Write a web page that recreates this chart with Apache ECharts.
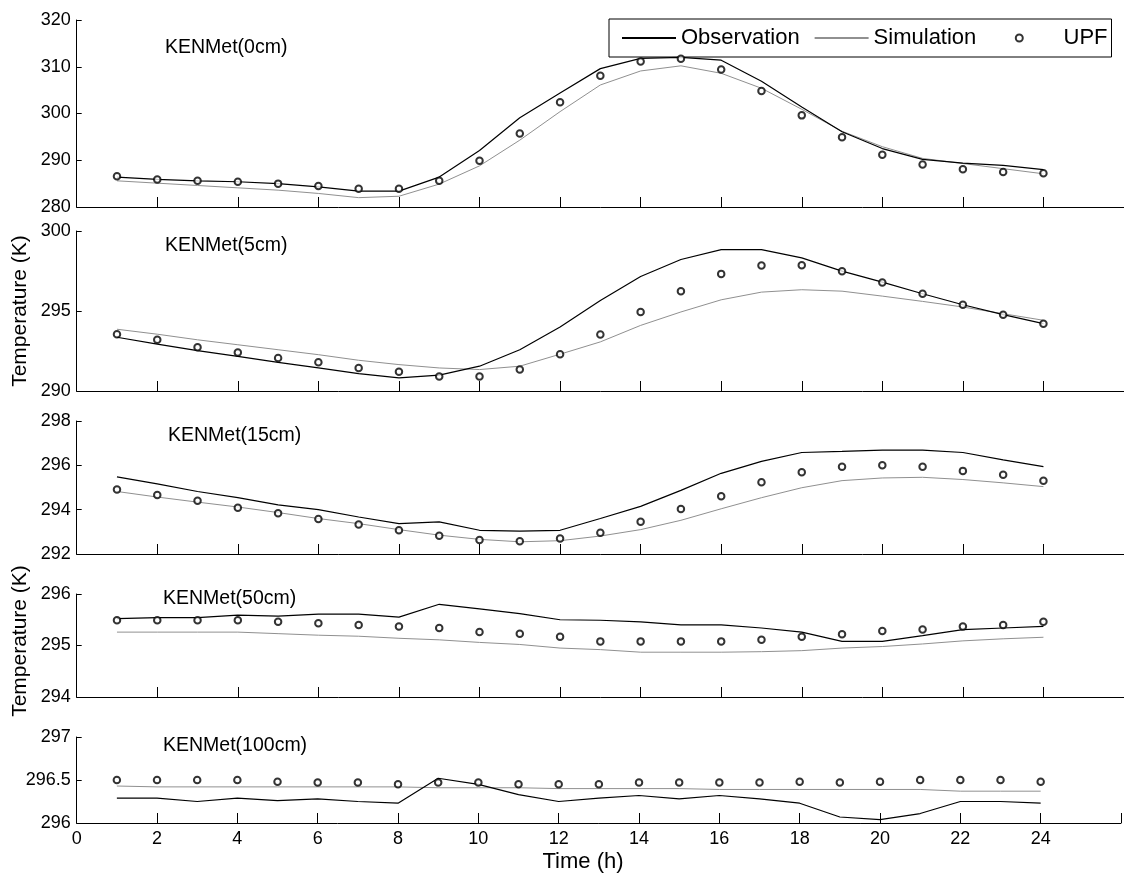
<!DOCTYPE html>
<html>
<head>
<meta charset="utf-8">
<script src="https://cdn.jsdelivr.net/npm/echarts@6/dist/echarts.min.js"></script>
<style>html,body{margin:0;padding:0;background:#fff;}#c{width:1124px;height:875px;}</style>
</head>
<body>
<div id="c"></div>
<script>
const hours = [1,2,3,4,5,6,7,8,9,10,11,12,13,14,15,16,17,18,19,20,21,22,23,24];
const xTicks = [0,2,4,6,8,10,12,14,16,18,20,22,24];
const panelTitles = ['KENMet(0cm)','KENMet(5cm)','KENMet(15cm)','KENMet(50cm)','KENMet(100cm)'];
const yMin = [280, 290, 292, 294, 296];
const yMax = [320, 300, 298, 296, 297];
const yStep = [10, 5, 2, 1, 0.5];

// 0 cm
const obs0 = [286.4,285.9,285.6,285.4,285.0,284.3,283.4,283.4,286.4,292.1,299.1,304.4,309.6,311.8,312.0,311.4,306.9,301.4,296.1,292.5,290.2,289.4,288.9,288.0];
const sim0 = [285.6,285.1,284.6,284.1,283.6,282.9,282.0,282.3,284.9,288.8,294.3,300.4,306.1,309.1,310.2,308.6,305.4,300.9,296.2,292.9,290.4,289.3,288.2,287.1];
const upf0 = [286.6,285.9,285.6,285.4,285.0,284.5,283.9,283.9,285.6,289.9,295.7,302.4,308.1,311.1,311.7,309.4,304.8,299.6,294.9,291.2,289.1,288.1,287.5,287.2];
// 5 cm
const obs5 = [293.36,292.93,292.52,292.16,291.79,291.44,291.09,290.82,290.99,291.55,292.58,294.0,295.66,297.16,298.22,298.84,298.84,298.32,297.49,296.8,296.08,295.39,294.77,294.21];
const sim5 = [293.86,293.55,293.2,292.89,292.58,292.27,291.92,291.65,291.44,291.34,291.55,292.3,293.07,294.1,294.94,295.7,296.18,296.33,296.24,295.93,295.6,295.25,294.83,294.42];
const upf5 = [293.55,293.2,292.74,292.41,292.06,291.79,291.44,291.2,290.91,290.91,291.34,292.3,293.53,294.94,296.24,297.32,297.84,297.86,297.49,296.78,296.08,295.39,294.77,294.21];
// 15 cm
const obs15 = [295.48,295.16,294.82,294.54,294.22,294.0,293.67,293.37,293.45,293.07,293.03,293.07,293.6,294.15,294.87,295.64,296.18,296.58,296.63,296.69,296.69,296.58,296.25,295.94];
const sim15 = [294.82,294.57,294.34,294.12,293.87,293.6,293.37,293.1,292.85,292.66,292.55,292.6,292.81,293.1,293.52,294.04,294.54,294.99,295.31,295.43,295.46,295.36,295.21,295.04];
const upf15 = [294.91,294.66,294.4,294.09,293.84,293.58,293.33,293.07,292.82,292.63,292.57,292.7,292.96,293.45,294.03,294.6,295.24,295.69,295.94,296.0,295.94,295.75,295.57,295.3];
// 50 cm
const obs50 = [295.52,295.54,295.54,295.59,295.57,295.61,295.61,295.55,295.8,295.71,295.62,295.5,295.49,295.46,295.4,295.4,295.34,295.26,295.08,295.08,295.19,295.31,295.34,295.37];
const sim50 = [295.26,295.26,295.26,295.26,295.23,295.2,295.18,295.14,295.11,295.06,295.02,294.95,294.92,294.87,294.87,294.87,294.88,294.9,294.95,294.98,295.03,295.09,295.13,295.16];
const upf50 = [295.49,295.49,295.49,295.49,295.46,295.43,295.4,295.37,295.34,295.26,295.23,295.17,295.08,295.08,295.08,295.08,295.11,295.17,295.22,295.28,295.31,295.37,295.4,295.46];
// 100 cm
const obs100 = [296.29,296.29,296.25,296.29,296.26,296.28,296.25,296.23,296.52,296.45,296.33,296.25,296.29,296.32,296.28,296.32,296.28,296.23,296.07,296.04,296.11,296.25,296.25,296.23];
const sim100 = [296.43,296.42,296.42,296.42,296.42,296.42,296.42,296.42,296.41,296.41,296.41,296.4,296.4,296.4,296.4,296.39,296.39,296.39,296.39,296.39,296.39,296.37,296.37,296.37];
const upf100 = [296.5,296.5,296.5,296.5,296.48,296.47,296.47,296.45,296.47,296.47,296.45,296.45,296.45,296.47,296.47,296.47,296.47,296.48,296.47,296.48,296.5,296.5,296.5,296.48];

const obsAll = [obs0, obs5, obs15, obs50, obs100];
const simAll = [sim0, sim5, sim15, sim50, sim100];
const upfAll = [upf0, upf5, upf15, upf50, upf100];

// layout (pixels)
const gridTop = [20, 231, 421, 594, 737];
const gridBottomY = [207, 391, 554, 697, 823];
const titleY = [33, 231, 421, 584, 731];
const titleX = [160, 160, 163, 158, 158];

const FONT = '"Liberation Sans", Arial, sans-serif';
const grids = [], xAxes = [], yAxes = [], series = [], titles = [];
for (let i = 0; i < 5; i++) {
  grids.push({left: 76.7, width: 1094, top: gridTop[i], height: gridBottomY[i] - gridTop[i], containLabel: false});
  const last = i === 4;
  xAxes.push({
    type: 'value', gridIndex: i, min: 0, max: 26, interval: 2,
    axisLine: {show: true, onZero: false, lineStyle: {color: '#000', width: 1}},
    axisTick: {show: true, inside: true, length: 10, lineStyle: {color: '#000', width: 1}},
    splitLine: {show: false},
    axisLabel: {show: last, color: '#000', fontFamily: FONT, fontSize: 18, margin: 7,
      formatter: v => (v <= 24 ? String(v) : '')}
  });
  yAxes.push({
    type: 'value', gridIndex: i, min: yMin[i], max: yMax[i], interval: yStep[i],
    axisLine: {show: true, onZero: false, lineStyle: {color: '#000', width: 1}},
    axisTick: {show: true, inside: true, length: 5, lineStyle: {color: '#000', width: 1}},
    splitLine: {show: false},
    axisLabel: {color: '#000', fontFamily: FONT, fontSize: 18, margin: 6}
  });
  titles.push({text: panelTitles[i], left: titleX[i], top: titleY[i],
    textStyle: {color: '#000', fontFamily: FONT, fontSize: 19.5, fontWeight: 'normal'}});
  const mk = arr => hours.map((h, j) => [h, arr[j]]);
  series.push({name: 'Observation', type: 'line', xAxisIndex: i, yAxisIndex: i, data: mk(obsAll[i]),
    symbol: 'none', lineStyle: {color: '#000', width: 1.2}, itemStyle: {color: '#000'}, z: 3, silent: true});
  series.push({name: 'Simulation', type: 'line', xAxisIndex: i, yAxisIndex: i, data: mk(simAll[i]),
    symbol: 'none', lineStyle: {color: '#909090', width: 1}, itemStyle: {color: '#909090'}, z: 2, silent: true});
  series.push({name: 'UPF', type: 'scatter', xAxisIndex: i, yAxisIndex: i, data: mk(upfAll[i]),
    symbol: 'emptyCircle', symbolSize: 6.5, itemStyle: {color: '#000', borderColor: '#000', borderWidth: 1}, z: 4, silent: true});
}

const chart = echarts.init(document.getElementById('c'), null, {renderer: 'canvas'});
chart.setOption({
  backgroundColor: '#fff',
  animation: false,
  title: titles,
  grid: grids,
  xAxis: xAxes,
  yAxis: yAxes,
  legend: {
    left: 609, top: 19, orient: 'horizontal',
    borderColor: '#000', borderWidth: 1, padding: [8, 4, 8, 12],
    itemGap: 14, itemWidth: 54, itemHeight: 7,
    textStyle: {color: '#000', fontFamily: FONT, fontSize: 22},
    formatter: name => (name === 'Simulation' ? 'Simulation    ' : name === 'UPF' ? '  UPF' : name),
    data: [
      {name: 'Observation', itemStyle: {opacity: 0}},
      {name: 'Simulation', itemStyle: {opacity: 0}},
      {name: 'UPF'}
    ]
  },
  graphic: [
    {type: 'text', x: 10, y: 311, rotation: Math.PI / 2,
      style: {text: 'Temperature (K)', fill: '#000', font: '21px "Liberation Sans", Arial, sans-serif', align: 'center', verticalAlign: 'top'}},
    {type: 'text', x: 10, y: 641, rotation: Math.PI / 2,
      style: {text: 'Temperature (K)', fill: '#000', font: '21px "Liberation Sans", Arial, sans-serif', align: 'center', verticalAlign: 'top'}},
    {type: 'text', x: 583, y: 862,
      style: {text: 'Time (h)', fill: '#000', font: '22px "Liberation Sans", Arial, sans-serif', align: 'center', verticalAlign: 'middle'}}
  ],
  series: series
});
</script>
</body>
</html>
